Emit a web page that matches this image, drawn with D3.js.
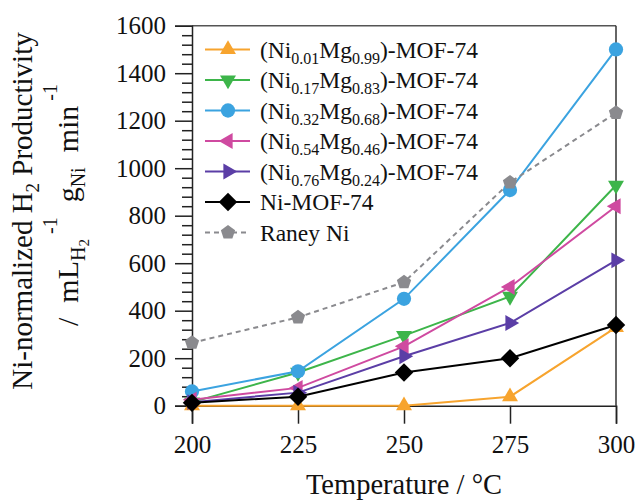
<!DOCTYPE html>
<html>
<head>
<meta charset="utf-8">
<script src="https://cdn.jsdelivr.net/npm/d3@7"></script>
<style>
  html, body { margin: 0; padding: 0; background: #fff; }
  svg { display: block; }
  svg text, svg tspan { font-family: "Liberation Serif", "DejaVu Serif", serif !important; fill: #111; }
</style>
</head>
<body>
<svg id="chart" width="636" height="501" style="font-family: 'Liberation Serif', serif"></svg>
<script>
// ---------- data ----------
const temps = [200, 225, 250, 275, 300];
const ni001 = [0, 0, 0, 38, 330];
const ni017 = [15, 140, 295, 460, 928];
const ni032 = [60, 145, 450, 908, 1500];
const ni054 = [25, 75, 250, 500, 840];
const ni076 = [15, 55, 208, 348, 612];
const niMOF = [12, 38, 140, 200, 340];
const raney = [265, 372, 520, 940, 1233];

const yTicks = [0, 200, 400, 600, 800, 1000, 1200, 1400, 1600];
const legendNi = ["0.01", "0.17", "0.32", "0.54", "0.76"];
const legendMg = ["0.99", "0.83", "0.68", "0.46", "0.24"];
const otherLabels = ["Ni-MOF-74", "Raney Ni"];

// ---------- styles ----------
const SERIF = "'Liberation Serif', 'DejaVu Serif', serif";
const series = [
  { vals: ni001, color: "#f7a42e", sym: "tri", rot: 0 },
  { vals: ni017, color: "#3db54a", sym: "tri", rot: 180 },
  { vals: ni032, color: "#3ba3e0", sym: "circle", rot: 0 },
  { vals: ni054, color: "#cf4aa0", sym: "tri", rot: -90 },
  { vals: ni076, color: "#5b3ea6", sym: "tri", rot: 90 },
  { vals: niMOF, color: "#000000", sym: "diamond", rot: 0 },
  { vals: raney, color: "#8a8a8e", sym: "pent", rot: 0, dash: "5,4" }
];

const svg = d3.select("#chart");
const x = d3.scaleLinear().domain([200, 300]).range([192, 616]);
const y = d3.scaleLinear().domain([0, 1600]).range([405.7, 25.7]);

function symPath(s) {
  if (s === "tri") return d3.symbol(d3.symbolTriangle, 110)();
  if (s === "circle") return d3.symbol(d3.symbolCircle, 160)();
  if (s === "diamond") return d3.symbol(d3.symbolSquare, 170)();
  const r = 7.5, pts = [];
  for (let k = 0; k < 5; k++) {
    const a = (-90 + 72 * k) * Math.PI / 180;
    pts.push([r * Math.cos(a), r * Math.sin(a)]);
  }
  return "M" + pts.map(p => p.join(",")).join("L") + "Z";
}
function symRot(s) { return s.sym === "diamond" ? 45 : s.rot; }

// ---------- frame ----------
svg.append("line").attr("x1", x(200)).attr("x2", x(300)).attr("y1", y(1600)).attr("y2", y(1600))
  .attr("stroke", "#555").attr("stroke-width", 1.5);
svg.append("line").attr("x1", x(300)).attr("x2", x(300)).attr("y1", y(1600)).attr("y2", y(0))
  .attr("stroke", "#333").attr("stroke-width", 1.5);

// ---------- axes ----------
const minor = d3.range(0, 1601, 40).filter(v => v % 200 !== 0);
const gMinor = svg.append("g").attr("transform", `translate(${x(200)},0)`)
  .call(d3.axisLeft(y).tickValues(minor).tickSize(10).tickFormat(""));
const gY = svg.append("g").attr("transform", `translate(${x(200)},0)`)
  .call(d3.axisLeft(y).tickValues(yTicks).tickSize(17).tickPadding(9).tickFormat(d3.format("d")));
const gX = svg.append("g").attr("transform", `translate(0,${y(0)})`)
  .call(d3.axisBottom(x).tickValues(temps).tickSize(18).tickPadding(12));
[gMinor, gY, gX].forEach(g => {
  g.attr("font-family", null).style("font-family", SERIF);
  g.select(".domain").attr("stroke", "#222").attr("stroke-width", 1.5);
  g.selectAll(".tick line").attr("stroke", "#222").attr("stroke-width", 1.5);
  g.selectAll(".tick text").style("font-family", SERIF).attr("font-size", 25).attr("fill", "#111");
});
gMinor.select(".domain").remove();

// ---------- series ----------
const line = d3.line().x((d, i) => x(temps[i])).y(d => y(d));
series.forEach(s => {
  svg.append("path").datum(s.vals).attr("d", line)
    .attr("fill", "none").attr("stroke", s.color).attr("stroke-width", 2)
    .attr("stroke-dasharray", s.dash || null);
  svg.append("g").selectAll("path").data(s.vals).join("path")
    .attr("d", symPath(s.sym))
    .attr("transform", (d, i) => `translate(${x(temps[i])},${y(d)}) rotate(${symRot(s)})`)
    .attr("fill", s.color);
});

// ---------- legend ----------
const lg = svg.append("g").style("font-family", SERIF);
const ly0 = 49.5, lstep = 30.5;
series.forEach((s, i) => {
  const yy = ly0 + i * lstep;
  lg.append("line").attr("x1", 205).attr("x2", 250).attr("y1", yy).attr("y2", yy)
    .attr("stroke", s.color).attr("stroke-width", 2).attr("stroke-dasharray", s.dash || null);
  lg.append("path").attr("d", symPath(s.sym))
    .attr("transform", `translate(228,${yy}) rotate(${symRot(s)})`).attr("fill", s.color);
  const t = lg.append("text").attr("x", 260).attr("y", yy + 8).attr("font-size", 23.5)
    .style("font-family", SERIF);
  if (i < 5) {
    t.append("tspan").text("(Ni");
    t.append("tspan").attr("font-size", 16).attr("dy", 6).text(legendNi[i]);
    t.append("tspan").attr("dy", -6).text("Mg");
    t.append("tspan").attr("font-size", 16).attr("dy", 6).text(legendMg[i]);
    t.append("tspan").attr("dy", -6).text(")-MOF-74");
  } else {
    t.text(otherLabels[i - 5]);
  }
});

// ---------- axis titles ----------
svg.append("text").attr("x", 404).attr("y", 494).attr("text-anchor", "middle")
  .style("font-family", SERIF).attr("font-size", 28.5).text("Temperature / °C");

const t1 = svg.append("text").attr("transform", "translate(32,211) rotate(-90)")
  .style("font-family", SERIF).attr("text-anchor", "middle").attr("font-size", 29);
t1.append("tspan").text("Ni-normalized H");
t1.append("tspan").attr("font-size", 19).attr("dy", 7).text("2");
t1.append("tspan").attr("dy", -7).text(" Productivity");

const t2 = svg.append("text").attr("transform", "translate(78,205) rotate(-90)")
  .style("font-family", SERIF).style("white-space", "pre")
  .attr("text-anchor", "middle").attr("font-size", 30);
t2.append("tspan").text("/  mL");
t2.append("tspan").attr("font-size", 20).attr("dy", 7).text("H");
t2.append("tspan").attr("font-size", 15).attr("dy", 4).text("2");
t2.append("tspan").attr("font-size", 20).attr("dy", -32).text(" -1");
t2.append("tspan").attr("dy", 21).text("  g");
t2.append("tspan").attr("font-size", 20).attr("dy", 7).text("Ni");
t2.append("tspan").attr("dy", -7).text("  min");
t2.append("tspan").attr("font-size", 20).attr("dy", -21).text(" -1");
</script>
</body>
</html>
